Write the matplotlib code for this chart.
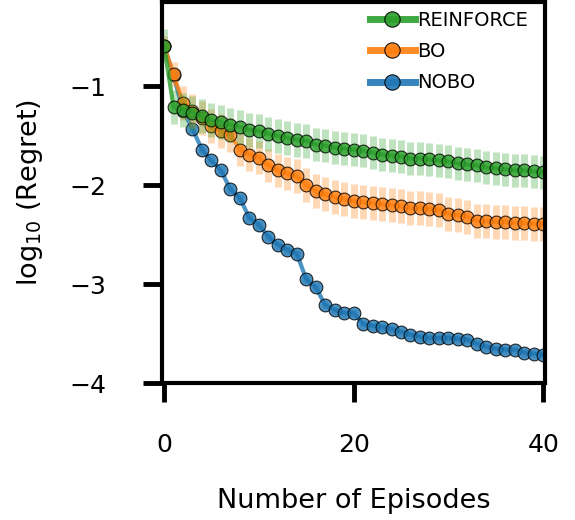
import numpy as np
import matplotlib
matplotlib.use("Agg")
import matplotlib.pyplot as plt

episodes = np.arange(41)

# log10 regret
reinforce = [-0.59, -1.21, -1.24, -1.27, -1.30, -1.34, -1.36, -1.39, -1.41, -1.44,
             -1.45, -1.48, -1.50, -1.52, -1.54, -1.55, -1.59, -1.60, -1.62, -1.63,
             -1.64, -1.65, -1.67, -1.69, -1.70, -1.71, -1.73, -1.73, -1.74, -1.75,
             -1.76, -1.78, -1.79, -1.80, -1.82, -1.83, -1.84, -1.85, -1.85, -1.86,
             -1.87]
bo = [-0.59, -0.88, -1.17, -1.25, -1.32, -1.40, -1.45, -1.49, -1.64, -1.69,
      -1.72, -1.80, -1.85, -1.88, -1.91, -2.00, -2.06, -2.09, -2.12, -2.14,
      -2.16, -2.17, -2.18, -2.19, -2.20, -2.21, -2.23, -2.23, -2.24, -2.25,
      -2.29, -2.30, -2.32, -2.36, -2.36, -2.37, -2.37, -2.38, -2.38, -2.39,
      -2.39]
nobo = [-0.59, -0.89, -1.25, -1.43, -1.64, -1.75, -1.85, -2.04, -2.13, -2.33,
        -2.40, -2.52, -2.60, -2.65, -2.69, -2.95, -3.03, -3.21, -3.26, -3.29,
        -3.29, -3.40, -3.42, -3.43, -3.45, -3.48, -3.51, -3.53, -3.54, -3.54,
        -3.54, -3.55, -3.56, -3.60, -3.63, -3.65, -3.66, -3.66, -3.69, -3.70,
        -3.71]

reinforce_err = [0.17] * 41
bo_err = [0.10, 0.12] + [0.17] * 39
nobo_err = [0.04] * 41

series = [
    ("NOBO", nobo, nobo_err, "#1f77b4"),
    ("BO", bo, bo_err, "#ff7f0e"),
    ("REINFORCE", reinforce, reinforce_err, "#2ca02c"),
]

fig = plt.figure(figsize=(5.75, 5.2), dpi=100)
ax = fig.add_axes([0.282, 0.263, 0.666, 0.733])

handles = {}
for name, y, err, c in series:
    ax.errorbar(episodes, y, yerr=err, fmt="none", ecolor=c, elinewidth=5,
                alpha=0.3, capsize=0)
    h, = ax.plot(episodes, y, "-o", color=c, lw=3, ms=9.2, mec="black",
                 mew=0.8, alpha=0.8, label=name)
    handles[name] = h

order = ["REINFORCE", "BO", "NOBO"]
leg = ax.legend([handles[n] for n in order], order, loc="upper right",
                bbox_to_anchor=(1.0, 1.022), frameon=False, fontsize=14,
                handlelength=2.3, handletextpad=0.1, labelspacing=0.62,
                borderaxespad=0.5, markerscale=1.2)
for ln in leg.get_lines():
    ln.set_linewidth(5)
    ln.set_alpha(0.9)

ax.set_xlim(-0.2, 40.2)
ax.set_ylim(-4.0, -0.15)
ax.set_xticks([0, 20, 40])
ax.set_yticks([-1, -2, -3, -4])

for s in ax.spines.values():
    s.set_linewidth(3)
ax.tick_params(axis="both", direction="out", length=14, width=3.5,
               labelsize=18)
ax.tick_params(axis="x", pad=22)
ax.tick_params(axis="y", pad=26)

ax.set_xlabel("Number of Episodes", fontsize=19.5, labelpad=22)
ax.set_ylabel("log$_{10}$ (Regret)", fontsize=19.5, labelpad=18)

fig.savefig("out.png", dpi=100)
